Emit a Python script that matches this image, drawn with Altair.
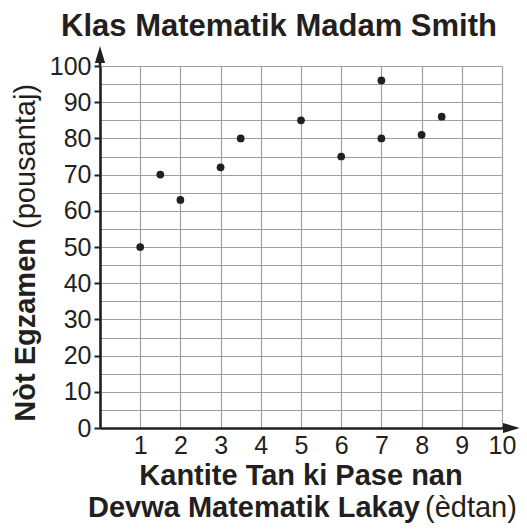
import altair as alt
import pandas as pd

# Data
hours = [1, 1.5, 2, 3, 3.5, 5, 6, 7, 7, 8, 8.5]
scores = [50, 70, 63, 72, 80, 85, 75, 96, 80, 81, 86]

x_grid_values = [i * 0.5 for i in range(0, 21)]
y_grid_values = [i * 5 for i in range(0, 21)]

title_text = "Klas Matematik Madam Smith"
y_title_bold = "Nòt Egzamen"
y_title_regular = "(pousantaj)"
x_title_line1 = "Kantite Tan ki Pase nan"
x_title_line2_bold = "Devwa Matematik Lakay"
x_title_line2_regular = "(èdtan)"

FONT = "Liberation Sans"
INK = "#231f20"
GRID = "#a0a0a0"
W, H = 402, 362

df = pd.DataFrame({"hours": hours, "score": scores})

points = alt.Chart(df).mark_circle(size=60, color=INK, opacity=1).encode(
    x=alt.X("hours:Q",
            scale=alt.Scale(domain=[0, 10], nice=False, zero=False),
            axis=alt.Axis(values=x_grid_values, grid=True, gridColor=GRID, gridWidth=1.2,
                          ticks=False, domain=True, domainColor=INK, domainWidth=2.6,
                          format="d",
                          labelExpr="(datum.value % 1 === 0 && datum.value > 0) ? datum.label : ''",
                          labelFont=FONT, labelFontSize=25, labelColor=INK, labelPadding=5,
                          labelFlush=False, labelOverlap=False, title=None)),
    y=alt.Y("score:Q",
            scale=alt.Scale(domain=[0, 100], nice=False),
            axis=alt.Axis(values=y_grid_values, grid=True, gridColor=GRID, gridWidth=1.2,
                          ticks=True, tickSize=6, tickWidth=2, tickColor=INK,
                          tickOpacity={"condition": {"test": "datum.value % 10 === 0", "value": 1}, "value": 0},
                          domain=True, domainColor=INK, domainWidth=2.6,
                          format="d",
                          labelExpr="(datum.value % 10 === 0) ? datum.label : ''",
                          labelFont=FONT, labelFontSize=25, labelColor=INK, labelPadding=3,
                          labelFlush=False, labelOverlap=False, title=None)),
)

one = alt.Data(values=[{}])

y_ext = alt.Chart(one).mark_rule(color=INK, strokeWidth=2.6).encode(
    x=alt.value(0), y=alt.value(0), y2=alt.value(-12))
x_ext = alt.Chart(one).mark_rule(color=INK, strokeWidth=2.6).encode(
    x=alt.value(W), x2=alt.value(W + 10), y=alt.value(H))

y_arrow = alt.Chart(one).mark_point(
    shape="M0,-1L0.6,1L-0.6,1Z", filled=True, color=INK, opacity=1, size=289
).encode(x=alt.value(0), y=alt.value(-11.5))
x_arrow = alt.Chart(one).mark_point(
    shape="M1,0L-1,-0.6L-1,0.6Z", filled=True, color=INK, opacity=1, size=289
).encode(x=alt.value(W + 9.5), y=alt.value(H))

def txt(text, x, y, size, weight="normal", align="left", angle=0, baseline="alphabetic"):
    return alt.Chart(one).mark_text(
        text=text, font=FONT, fontSize=size, fontWeight=weight, color=INK,
        align=align, baseline=baseline, angle=angle
    ).encode(x=alt.value(x), y=alt.value(y))

title = txt(title_text, 179, -30, 31, "bold", "center")
yt1 = txt(y_title_bold, -65, 172, 29, "bold", "right", 270)
yt2 = txt(y_title_regular, -65, 163, 29, "normal", "left", 270)
xt1 = txt(x_title_line1, 201, 419, 29, "bold", "center")
xt2 = txt(x_title_line2_bold, 320, 451, 29, "bold", "right")
xt3 = txt(x_title_line2_regular, 325, 451, 29, "normal", "left")

chart = alt.layer(
    points, y_ext, x_ext, y_arrow, x_arrow, title, yt1, yt2, xt1, xt2, xt3
).properties(
    width=W, height=H,
    autosize=alt.AutoSizeParams(type="none"),
    padding={"left": 92, "top": 58, "right": 17, "bottom": 95},
).configure_view(stroke=None).configure(background="white")

chart.save("out.html", embed_options={"renderer": "svg", "actions": False})
